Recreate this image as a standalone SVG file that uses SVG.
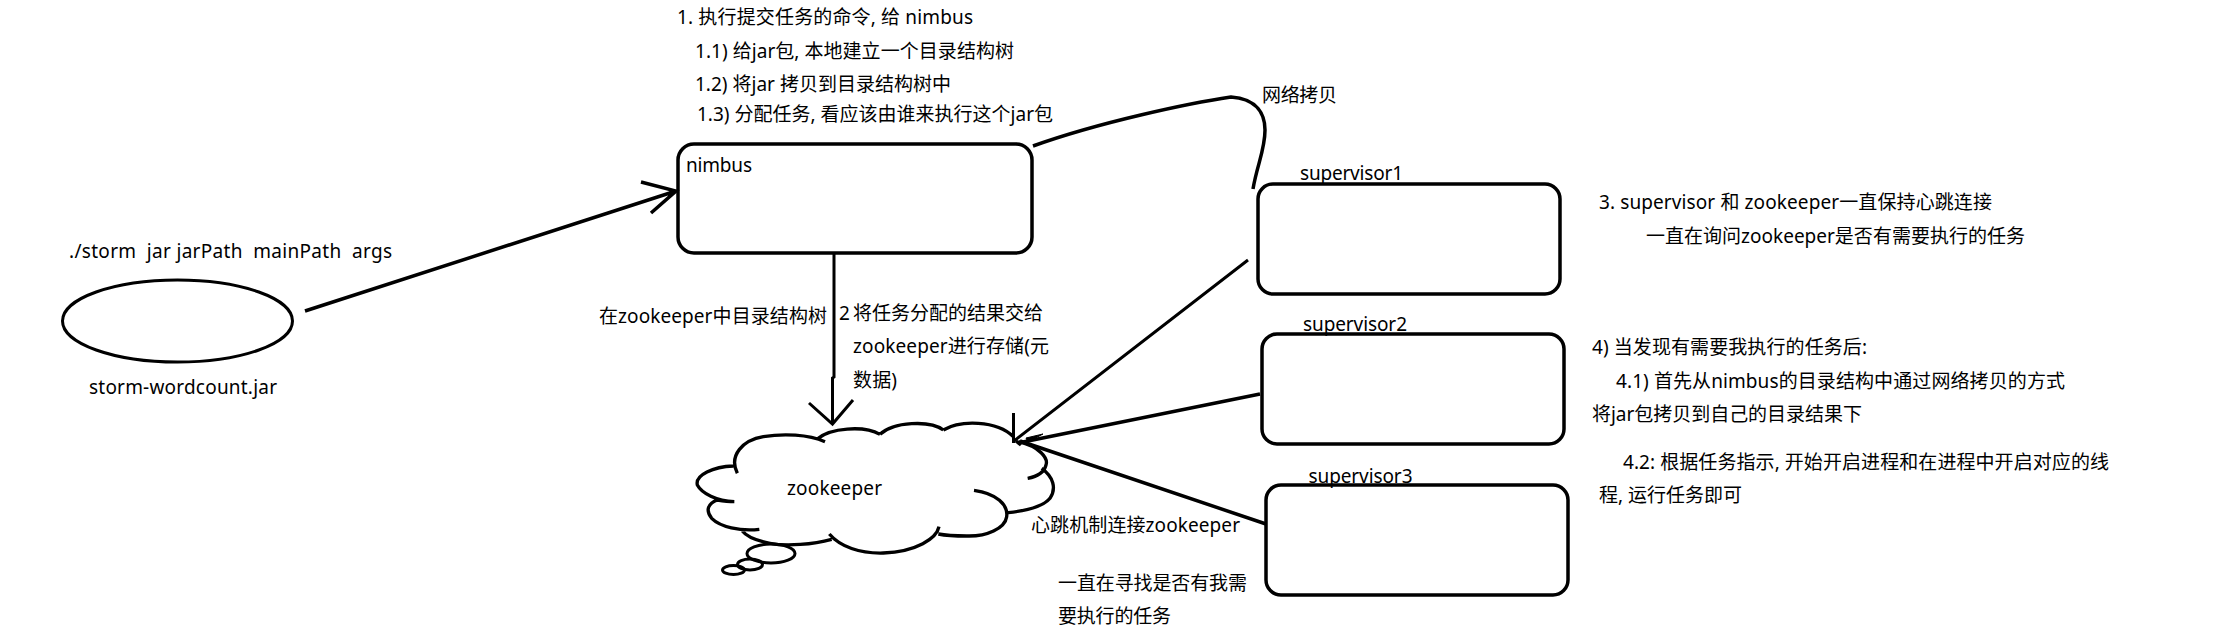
<svg xmlns="http://www.w3.org/2000/svg" width="2222" height="644" viewBox="0 0 2222 644">
<style>
text{font-family:"Noto Sans","Noto Sans CJK SC",sans-serif;font-size:19px;fill:#000;white-space:pre}
.s{fill:none;stroke:#000;stroke-width:3.5;stroke-linecap:butt;stroke-linejoin:miter}
.t{fill:none;stroke:#000;stroke-width:3}
</style>
<rect width="2222" height="644" fill="#fff"/>
<g id="connectors">
<path class="s" d="M305 311L676 191M641 182L676 191L651 213"/>
<path class="s" d="M1033 146C1100 122 1190 103 1231 97C1258 99 1265 115 1265 130C1265 150 1257 165 1253 189"/>
<path class="t" d="M834 253V377L832.500 378V424M809 403L832.500 424L853 400"/>
<path class="t" d="M1248 260L1014 441M1013.500 413V443"/>
<path class="s" d="M1260 394L1018 443"/>
<path d="M1043 434L1026 438L1028 442Z" fill="#000" stroke="#000"/>
<path class="s" d="M1266 524L1020 441M1016 441L1021 445"/>
</g>
<g id="jar">
<ellipse class="t" cx="177.500" cy="321" rx="115" ry="41"/>
<text x="69" y="258" textLength="323">./storm  jar jarPath  mainPath  args</text>
<text x="89" y="394" textLength="188">storm-wordcount.jar</text>
</g>
<g id="nimbus">
<rect class="s" x="678" y="144" width="354" height="109" rx="16" ry="16"/>
<text x="686" y="172" textLength="66">nimbus</text>
</g>
<g id="supervisor1">
<rect class="s" x="1258" y="184" width="302" height="110" rx="15" ry="15"/>
<text x="1300" y="180" textLength="103">supervisor1</text>
</g>
<g id="supervisor2">
<rect class="s" x="1262" y="334" width="302" height="110" rx="15" ry="15"/>
<text x="1303" y="331" textLength="104">supervisor2</text>
</g>
<g id="supervisor3">
<rect class="s" x="1266" y="485" width="302" height="110" rx="15" ry="15"/>
<text x="1308.500" y="483" textLength="104">supervisor3</text>
</g>
<g id="zookeeper">
<path fill="none" stroke="#000" stroke-width="10" transform="translate(680 395) scale(.33333)" d="M172 235C145 180 190 135 250 125C310 115 385 118 435 140M415 130C450 100 550 90 600 118M600 118C640 80 750 75 790 105M790 105C840 75 950 75 1000 125M1015 140C1080 155 1105 190 1098 210C1092 235 1070 245 1043 250M1085 220C1120 245 1130 280 1110 310C1090 335 1040 347 985 353M882 286C950 295 985 330 980 365C975 400 920 425 860 423C830 423 800 422 775 417M777 395C770 430 710 470 610 474C540 476 480 455 448 417M455 433C400 448 320 455 270 445C235 438 200 425 187 408M238 403C180 410 120 395 95 370C75 345 85 325 112 315C130 318 145 320 163 320M163 320C110 318 65 295 52 270C45 240 100 215 160 213"/>
<ellipse class="t" cx="771" cy="553.500" rx="24" ry="9.500"/>
<ellipse class="t" cx="750" cy="564.500" rx="12.500" ry="5.500"/>
<ellipse class="t" cx="733.500" cy="570" rx="11" ry="4.500"/>
<text x="787" y="495" textLength="95">zookeeper</text>
</g>
<g id="labels">
<text x="677" y="24" textLength="296">1. 执行提交任务的命令, 给 nimbus</text>
<text x="695" y="58" textLength="319">1.1) 给jar包, 本地建立一个目录结构树</text>
<text x="695" y="91" textLength="256">1.2) 将jar 拷贝到目录结构树中</text>
<text x="697" y="121" textLength="356">1.3) 分配任务, 看应该由谁来执行这个jar包</text>
<text x="1262" y="102" textLength="75">网络拷贝</text>
<text x="599" y="323" textLength="228">在zookeeper中目录结构树</text>
<text x="839" y="320">2 <tspan x="853">将任务分配的结果交给</tspan></text>
<text x="853" y="353" textLength="196">zookeeper进行存储(元</text>
<text x="853" y="387" textLength="44">数据)</text>
<text x="1031" y="532" textLength="209">心跳机制连接zookeeper</text>
<text x="1058" y="590" textLength="189">一直在寻找是否有我需</text>
<text x="1058" y="623" textLength="113">要执行的任务</text>
<text x="1599" y="209" textLength="393">3. supervisor 和 zookeeper一直保持心跳连接</text>
<text x="1646" y="243" textLength="379">一直在询问zookeeper是否有需要执行的任务</text>
<text x="1592" y="354" textLength="275">4) 当发现有需要我执行的任务后:</text>
<text x="1616" y="388" textLength="449">4.1) 首先从nimbus的目录结构中通过网络拷贝的方式</text>
<text x="1592" y="421" textLength="270">将jar包拷贝到自己的目录结果下</text>
<text x="1623" y="469" textLength="486">4.2: 根据任务指示, 开始开启进程和在进程中开启对应的线</text>
<text x="1599" y="502" textLength="143">程, 运行任务即可</text>
</g>
</svg>
